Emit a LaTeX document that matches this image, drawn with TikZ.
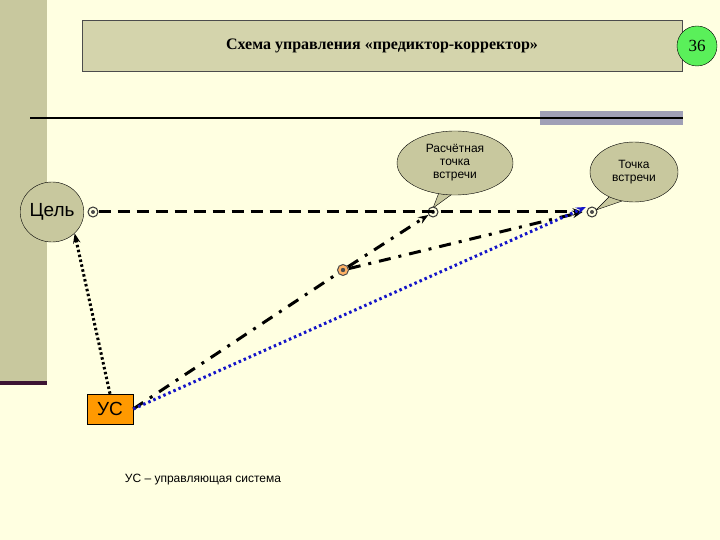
\documentclass[tikz,border=0pt]{standalone}
\usepackage{fontspec}
\setmainfont{Liberation Serif}
\newfontfamily\sansf{Liberation Sans}
\usetikzlibrary{shapes.geometric,arrows.meta}
\definecolor{bg}{RGB}{255,255,225}
\definecolor{olive}{RGB}{200,200,158}
\definecolor{titlef}{RGB}{212,212,172}
\definecolor{barg}{RGB}{160,160,182}
\definecolor{strip}{RGB}{60,20,50}
\definecolor{grn}{RGB}{90,240,90}
\definecolor{orng}{RGB}{255,153,0}
\definecolor{dblue}{RGB}{20,20,200}
\tikzset{
 marker/.style={circle,draw=black!80,fill=bg,inner sep=0pt,minimum size=10pt,line width=1pt,
   path picture={\fill[black!70] (path picture bounding box.center) circle (2pt);}},
 bubble/.style={ellipse,draw=black,fill=olive,inner sep=0pt,font=\sansf\fontsize{12}{13}\selectfont,align=center},
 conn/.style={line width=3pt,-{Stealth[length=10pt]}},
}
\begin{document}
\begin{tikzpicture}[x=1pt,y=-1pt]
\fill[bg] (0,0) rectangle (720,540);
\useasboundingbox (0,0) rectangle (720,540);
\fill[olive] (0,0) rectangle (47,383);
\fill[strip] (0,381) rectangle (47,385);
\node[draw=black!70,line width=1pt,fill=titlef,minimum width=600pt,minimum height=51pt,font=\bfseries\fontsize{16}{18}\selectfont] (title) at (382,46) {Схема управления «предиктор-корректор»};
\node[circle,draw=black,fill=grn,minimum size=40pt,font=\fontsize{17}{19}\selectfont] (num) at (697,46) {36};
\fill[barg] (540,111) rectangle (683,125);
\draw[line width=2.5pt] (30,118) -- (683,118);
% bubbles tails
\fill[olive,draw=black] (440,190) -- (433,208) -- (455,192) -- cycle;
\node[bubble,minimum width=116pt,minimum height=64pt] (b1) at (455,163) {Расчётная\\точка\\встречи};
\fill[olive,draw=black] (610,196) -- (596,210) -- (625,200) -- cycle;
\node[bubble,minimum width=88pt,minimum height=60pt] (b2) at (634,172) {Точка\\встречи};
\node[ellipse,draw=black,fill=olive,minimum width=56pt,minimum height=60pt,inner sep=0pt,font=\sansf\fontsize{19}{21}\selectfont] (goal) at (52,212) {Цель};
\node[draw=black,fill=orng,minimum width=46pt,minimum height=30pt,inner sep=0pt,font=\sansf\fontsize{19}{21}\selectfont] (us) at (110,409) {УС};
\node[marker] (m0) at (93,212) {};
\node[marker] (m1) at (433,212) {};
\node[marker] (m2) at (592,212) {};
\node[circle,draw=black!70,fill=orange!60,inner sep=0pt,minimum size=11pt,line width=1pt,
  path picture={\fill[black!70] (path picture bounding box.center) circle (2.2pt);}] (m3) at (343,270) {};
\node[font=\sansf\fontsize{12}{14}\selectfont] (cap) at (203,480) {УС – управляющая система};
% connectors
\draw[conn,dash pattern=on 12pt off 7pt] (m0) -- ([xshift=-4pt]m2.west);
\draw[line width=3pt,dash pattern=on 12pt off 8pt on 3pt off 8pt] (us.east) -- (m3);
\draw[conn,dash pattern=on 12pt off 8pt on 3pt off 8pt] (m3) -- (m1);
\draw[conn,dash pattern=on 12pt off 8pt on 3pt off 8pt] (m3) -- ([xshift=-4pt]m2.west);
\draw[dblue,line width=3pt,dash pattern=on 2.5pt off 3pt,-{Stealth[length=10pt]}] (us.east) -- ([xshift=-6pt,yshift=5pt]m2.center);
\draw[line width=3pt,dash pattern=on 2.5pt off 2.5pt,-{Stealth[length=10pt]}] (us.north) -- (goal.south east);
\end{tikzpicture}
\end{document}
